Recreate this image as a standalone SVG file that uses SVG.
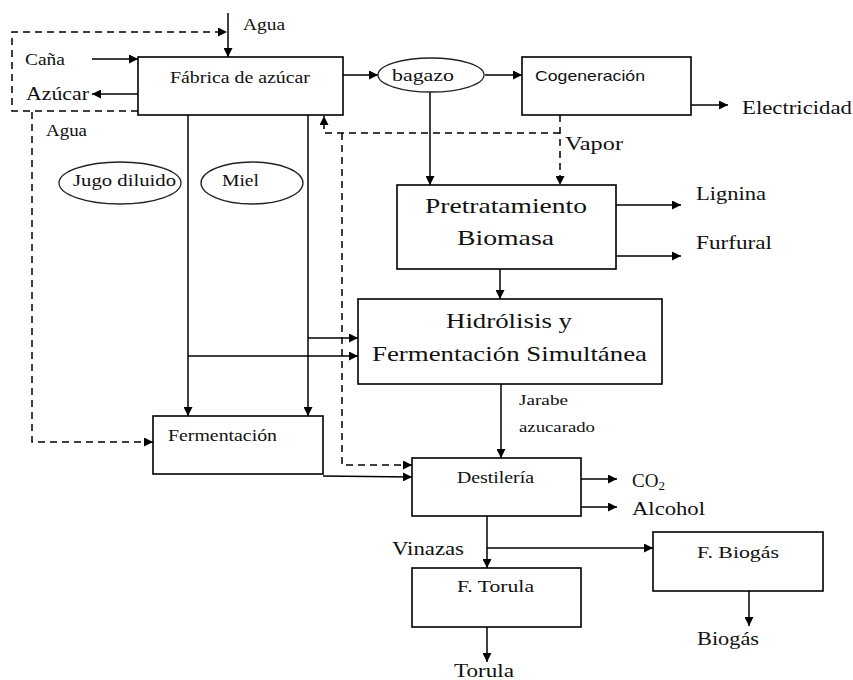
<svg xmlns="http://www.w3.org/2000/svg" width="853" height="680" viewBox="0 0 853 680" font-family="'Liberation Serif', 'DejaVu Serif', serif">
<style>
.box{fill:#fff;stroke:#000;stroke-width:1.6}
.ell{fill:none;stroke:#222;stroke-width:1.3}
.ln{fill:none;stroke:#000;stroke-width:1.5}
.ar{marker-end:url(#ah)}
.ds{fill:none;stroke:#000;stroke-width:1.5;stroke-dasharray:7 5}
.t{fill:#111;font-family:'Liberation Serif','DejaVu Serif',serif}
.sans{fill:#111;font-family:'Liberation Sans','DejaVu Sans',sans-serif}
</style>
<defs>
<marker id="ah" viewBox="0 0 10 10" refX="10" refY="5" markerWidth="9" markerHeight="9" markerUnits="userSpaceOnUse" orient="auto">
<path d="M0,0 L10,5 L0,10 z" fill="#000"/>
</marker>
</defs>
<rect width="853" height="680" fill="#fff"/>

<g id="connectors">
<path class="ln ar" d="M228,13 V57"/>
<path class="ln ar" d="M92,59 H138"/>
<path class="ln ar" d="M138,94 H92"/>
<path class="ln ar" d="M343,75 H378"/>
<path class="ln ar" d="M485,75 H522"/>
<path class="ln ar" d="M691,105 H728"/>
<path class="ln ar" d="M430,92 V185"/>
<path class="ln ar" d="M616,205 H681"/>
<path class="ln ar" d="M616,256 H681"/>
<path class="ln ar" d="M500,269 V299"/>
<path class="ln ar" d="M188,115 V416"/>
<path class="ln ar" d="M188,356 H358"/>
<path class="ln ar" d="M308,115 V416"/>
<path class="ln ar" d="M308,338 H358"/>
<path class="ln ar" d="M501,384 V458"/>
<path class="ln ar" d="M323,476 L412,477"/>
<path class="ln ar" d="M581,479 H617"/>
<path class="ln ar" d="M581,507 H617"/>
<path class="ln ar" d="M487,516 V568"/>
<path class="ln ar" d="M487,548 H653"/>
<path class="ln ar" d="M487,627 V662"/>
<path class="ln ar" d="M749,591 V626"/>
<path class="ds ar" d="M138,111 H12 V32 H227"/>
<path class="ds ar" d="M32,112 V442 H153"/>
<path class="ds ar" d="M560,115 V185"/>
<path class="ds ar" d="M560,133 H324 V116"/>
<path class="ds ar" d="M342,133 V465 H412"/>
</g>

<g id="labels">
<text class="t" x="243" y="30" font-size="17" textLength="42" lengthAdjust="spacingAndGlyphs">Agua</text>
<text class="t" x="25" y="65" font-size="17" textLength="40" lengthAdjust="spacingAndGlyphs">Caña</text>
<text class="t" x="26" y="100" font-size="18" textLength="63" lengthAdjust="spacingAndGlyphs">Azúcar</text>
<text class="t" x="46" y="136" font-size="17" textLength="41" lengthAdjust="spacingAndGlyphs">Agua</text>
<text class="t" x="742" y="114" font-size="19" textLength="110" lengthAdjust="spacingAndGlyphs">Electricidad</text>
<text class="t" x="565" y="150" font-size="18" textLength="58" lengthAdjust="spacingAndGlyphs">Vapor</text>
<text class="t" x="696" y="200" font-size="19" textLength="70" lengthAdjust="spacingAndGlyphs">Lignina</text>
<text class="t" x="696" y="249" font-size="19" textLength="76" lengthAdjust="spacingAndGlyphs">Furfural</text>
<text class="t" x="519" y="405" font-size="15" textLength="49" lengthAdjust="spacingAndGlyphs">Jarabe</text>
<text class="t" x="519" y="432" font-size="15" textLength="76" lengthAdjust="spacingAndGlyphs">azucarado</text>
<text class="t" x="632" y="487" font-size="19">CO<tspan font-size="13" dy="3">2</tspan></text>
<text class="t" x="632" y="515" font-size="19" textLength="73" lengthAdjust="spacingAndGlyphs">Alcohol</text>
<text class="t" x="392" y="555" font-size="18" textLength="72" lengthAdjust="spacingAndGlyphs">Vinazas</text>
<text class="t" x="454" y="677" font-size="19" textLength="60" lengthAdjust="spacingAndGlyphs">Torula</text>
<text class="t" x="697" y="645" font-size="18" textLength="62" lengthAdjust="spacingAndGlyphs">Biogás</text>
</g>

<g id="fabrica">
<rect class="box" x="138" y="57" width="205" height="58"/>
<text class="t" x="170" y="83" font-size="17" textLength="140" lengthAdjust="spacingAndGlyphs">Fábrica  de azúcar</text>
</g>
<g id="bagazo">
<ellipse class="ell" cx="431" cy="75" rx="53" ry="17"/>
<text class="t" x="392" y="81" font-size="17" textLength="62" lengthAdjust="spacingAndGlyphs">bagazo</text>
</g>
<g id="cogeneracion">
<rect class="box" x="522" y="57" width="169" height="58"/>
<text class="sans" x="535" y="81" font-size="15" textLength="110" lengthAdjust="spacingAndGlyphs">Cogeneración</text>
</g>
<g id="jugo">
<ellipse class="ell" cx="120" cy="183" rx="61" ry="21"/>
<text class="t" x="73" y="186" font-size="17" textLength="103" lengthAdjust="spacingAndGlyphs">Jugo diluido</text>
</g>
<g id="miel">
<ellipse class="ell" cx="252" cy="183" rx="51" ry="21"/>
<text class="t" x="222" y="186" font-size="17" textLength="37" lengthAdjust="spacingAndGlyphs">Miel</text>
</g>
<g id="pretratamiento">
<rect class="box" x="397" y="185" width="219" height="84"/>
<text class="t" x="425" y="213" font-size="22" textLength="162" lengthAdjust="spacingAndGlyphs">Pretratamiento</text>
<text class="t" x="457" y="245" font-size="22" textLength="97" lengthAdjust="spacingAndGlyphs">Biomasa</text>
</g>
<g id="hidrolisis">
<rect class="box" x="358" y="299" width="304" height="85"/>
<text class="t" x="446" y="328" font-size="22" textLength="126" lengthAdjust="spacingAndGlyphs">Hidrólisis  y</text>
<text class="t" x="372" y="361" font-size="22" textLength="275" lengthAdjust="spacingAndGlyphs">Fermentación Simultánea</text>
</g>
<g id="fermentacion">
<rect class="box" x="153" y="416" width="170" height="58"/>
<text class="t" x="168" y="441" font-size="17" textLength="109" lengthAdjust="spacingAndGlyphs">Fermentación</text>
</g>
<g id="destileria">
<rect class="box" x="412" y="458" width="169" height="58"/>
<text class="t" x="457" y="483" font-size="16" textLength="77" lengthAdjust="spacingAndGlyphs">Destilería</text>
</g>
<g id="ftorula">
<rect class="box" x="412" y="568" width="169" height="59"/>
<text class="t" x="457" y="592" font-size="16" textLength="77" lengthAdjust="spacingAndGlyphs">F. Torula</text>
</g>
<g id="fbiogas">
<rect class="box" x="653" y="532" width="170" height="59"/>
<text class="t" x="697" y="558" font-size="17" textLength="82" lengthAdjust="spacingAndGlyphs">F. Biogás</text>
</g>
</svg>
